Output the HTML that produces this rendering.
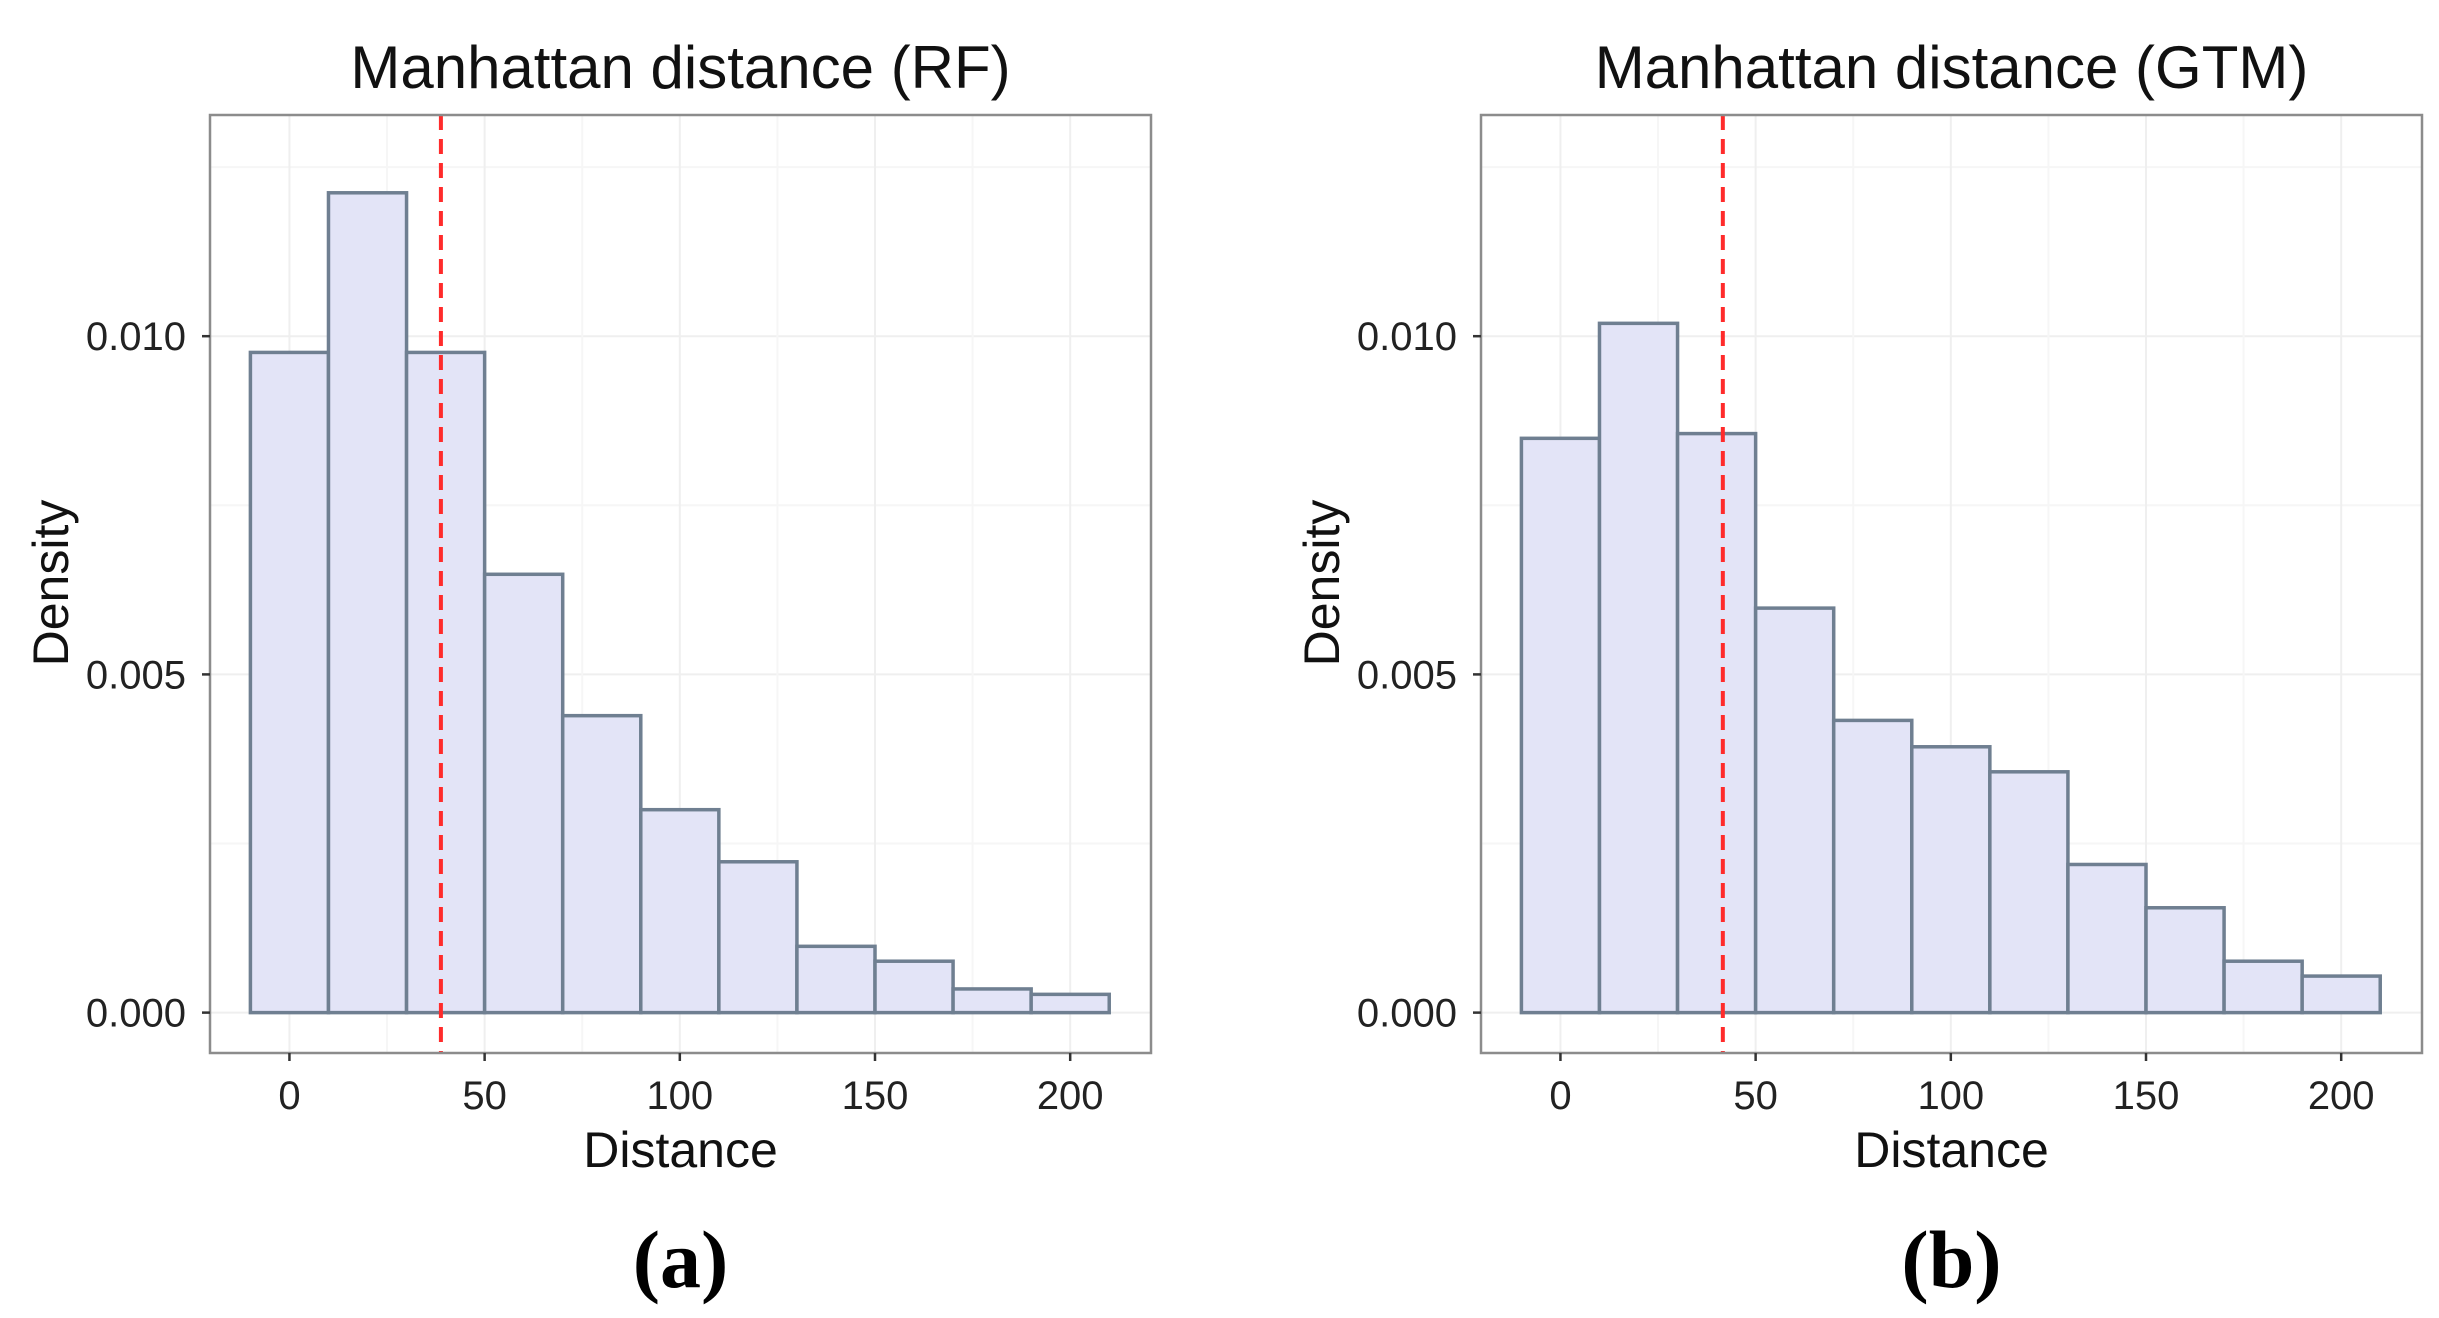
<!DOCTYPE html>
<html><head><meta charset="utf-8"><style>
html,body{margin:0;padding:0;background:#fff;}
svg{display:block;font-family:"Liberation Sans",sans-serif;}
</style></head><body>
<svg id="fig" width="2439" height="1318" viewBox="0 0 2439 1318"></svg>
<script>
const binStarts = [-10,10,30,50,70,90,110,130,150,170,190];
const binWidth = 20;
const rfDensity = [0.00976,0.01212,0.00976,0.00648,0.00439,0.00300,0.00223,0.00098,0.00076,0.00035,0.00027];
const gtmDensity = [0.00849,0.01019,0.00856,0.00598,0.00432,0.00393,0.00356,0.00219,0.00155,0.00076,0.00054];
const rfMean = 38.8;
const gtmMean = 41.6;
const xTicks = [0,50,100,150,200];
const yTicks = [0,0.005,0.010];
const yTickLabels = ["0.000","0.005","0.010"];
const titles = ["Manhattan distance (RF)","Manhattan distance (GTM)"];
const panelLabels = ["(a)","(b)"];

const NS="http://www.w3.org/2000/svg";
const svg=document.getElementById('fig');
function mk(tag,attrs,parent){const e=document.createElementNS(NS,tag);for(const k in attrs)e.setAttribute(k,attrs[k]);(parent||svg).appendChild(e);return e;}

function panel(idx,left,data,mean){
  const right=left+941, top=115, bottom=1053;
  const xMin=-20.35, xMax=220.7, yMin=-0.000597, yMax=0.01327;
  const X=v=>left+(v-xMin)/(xMax-xMin)*(right-left);
  const Y=v=>bottom-(v-yMin)/(yMax-yMin)*(bottom-top);
  const g=mk('g',{});
  
  
  mk('rect',{x:left,y:top,width:right-left,height:bottom-top,fill:'#fff'},g);
  for(let v=0;v<=0.0125;v+=0.0025){
    const l=mk('line',{x1:left,x2:right,y1:Y(v),y2:Y(v),stroke:(Math.round(v*10000)%50===0)?'#efefef':'#f6f6f6','stroke-width':2},g);
    
    
  }
  for(let v=0;v<=200;v+=25){
    const l=mk('line',{y1:top,y2:bottom,x1:X(v),x2:X(v),stroke:(v%50===0)?'#efefef':'#f6f6f6','stroke-width':2},g);
    
    
  }
  data.forEach((d,i)=>{
    const x0=X(binStarts[i]), x1=X(binStarts[i]+binWidth);
    const r=mk('rect',{x:x0,y:Y(d),width:x1-x0,height:Y(0)-Y(d),fill:'#e3e4f7',stroke:'#6f7f91','stroke-width':3.5},g);
    
    
  });
  const ml=mk('line',{x1:X(mean),x2:X(mean),y1:top,y2:bottom,stroke:'#ff2b2b','stroke-width':4,'stroke-dasharray':'15 9'},g);
  
  
  mk('rect',{x:left,y:top,width:right-left,height:bottom-top,fill:'none',stroke:'#8c8c8c','stroke-width':2.5},g);
  yTicks.forEach((v,i)=>{
    mk('line',{x1:left-8,x2:left,y1:Y(v),y2:Y(v),stroke:'#333','stroke-width':2.5},g);
    const t=mk('text',{x:left-24,y:Y(v)+14,'text-anchor':'end','font-size':40,fill:'#222'},g);
    t.textContent=yTickLabels[i];
    
    
  });
  xTicks.forEach(v=>{
    mk('line',{x1:X(v),x2:X(v),y1:bottom,y2:bottom+8,stroke:'#333','stroke-width':2.5},g);
    const t=mk('text',{x:X(v),y:bottom+56,'text-anchor':'middle','font-size':40,fill:'#222'},g);
    t.textContent=String(v);
    
    
  });
  const cx=(left+right)/2;
  const tt=mk('text',{x:cx,y:88,'text-anchor':'middle','font-size':60,fill:'#111'},g);
  tt.textContent=titles[idx];
  
  
  const xt=mk('text',{x:cx,y:1167,'text-anchor':'middle','font-size':50,fill:'#111'},g);
  xt.textContent='Distance';
  
  
  const yx=left-142, yy=583;
  const yt=mk('text',{x:yx,y:yy,'text-anchor':'middle','font-size':50,fill:'#111',transform:`rotate(-90 ${yx} ${yy})`},g);
  yt.textContent='Density';
  
  
  const pl=mk('text',{x:cx,y:1287,'text-anchor':'middle','font-size':82,'font-weight':'bold','font-family':'"Liberation Serif",serif',fill:'#000'},g);
  pl.textContent=panelLabels[idx];
  
  
}
panel(0,210,rfDensity,rfMean);
panel(1,1481,gtmDensity,gtmMean);
</script>
</body></html>
